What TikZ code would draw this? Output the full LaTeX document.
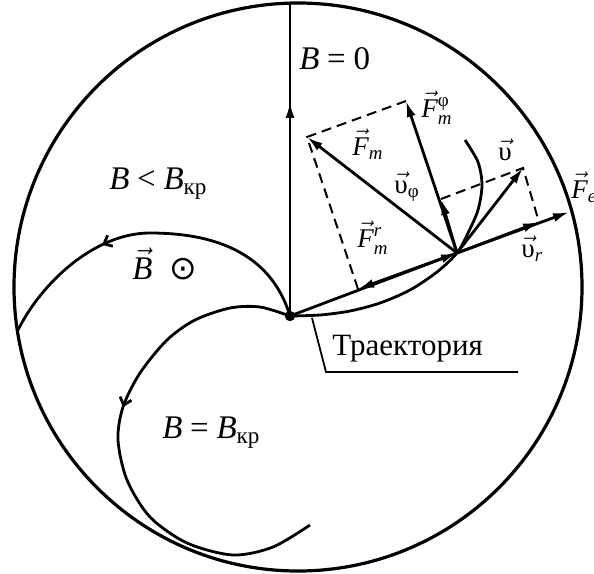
\documentclass[tikz,border=0pt]{standalone}
\usepackage{amsmath}
\usepackage{fontspec}
\setmainfont{Liberation Serif}
\newfontfamily\symfont{DejaVu Sans}
\usetikzlibrary{arrows.meta, decorations.markings, calc}
\newcommand{\rl}[1]{\mskip4mu\text{#1}\mskip4mu}

\tikzset{
  vec/.style={line width=1.4pt, -{Latex[length=8pt,width=4.5pt]}},
  traj/.style={line width=1.4pt},
  hint/.style={line width=1pt, dash pattern=on 5pt off 3pt},
  midarrow/.style={postaction={decorate}, decoration={markings,
      mark=at position #1 with {\arrow{Straight Barb[length=3.5pt,width=6pt]}}}},
  midvec/.style={postaction={decorate}, decoration={markings,
      mark=at position #1 with {\arrow{Latex[length=8pt,width=4.5pt]}}}},
  lab/.style={anchor=base west, inner sep=0pt, font=\fontsize{13.5}{16}\selectfont},
  blab/.style={anchor=base west, inner sep=0pt, font=\fontsize{16.5}{19}\selectfont},
  tlab/.style={anchor=base west, inner sep=0pt, font=\fontsize{15.5}{18}\selectfont},
}

\begin{document}
\begin{tikzpicture}[x=0.5pt, y=-0.5pt]
  \useasboundingbox (0,0) rectangle (594,573);

  % anode
  \coordinate (C) at (298,287);
  \draw[line width=1.6pt] (C) circle [radius=142pt];

  % cathode, point on the trajectory and vector ends
  \coordinate (O) at (290,316);
  \coordinate (P) at (457,253);
  \coordinate (top) at (290,3);
  \coordinate (Fe) at (569,212);
  \coordinate (vr) at (539,222);
  \coordinate (Fr) at (358,289);
  \coordinate (Fphi) at (406,101);
  \coordinate (vphi) at (441,199);
  \coordinate (Fm) at ($(Fr)+(Fphi)-(P)$);
  \coordinate (v) at ($(vr)+(vphi)-(P)$);

  % B = 0
  \draw[line width=1.4pt, midvec=0.684] (O) -- (top);

  % trajectories
  \draw[traj, midarrow=0.65] (O) .. controls (270,250) and (210,233) .. (150,233)
    .. controls (95,233) and (42,282) .. (18,330);
  \draw[traj, midarrow=0.42] plot[smooth] coordinates {(290,316) (260,307) (230,308) (195,320) (167,340)
    (140,373) (123,407) (118,440) (127,480) (150,517) (187,543) (233,555) (273,547) (310,525)};
  \draw[traj] plot[smooth] coordinates {(290,316) (320,315) (350,311) (380,303) (410,290) (437,272)
    (457,253) (468,233) (478,210) (482,185) (478,162) (465,140)};

  % leader of the label
  \coordinate (lead) at (312,318);
  \coordinate (kink) at (326,372);
  \coordinate (lend) at (518,372);
  \draw[line width=0.9pt] (lead) -- (kink) -- (lend);
  \node[tlab] (trlab) at (332,355) {Траектория};

  % forces and velocities
  \draw[vec] (O) -- (P);
  \draw[vec] (P) -- (Fe);
  \draw[vec] (P) -- (vr);
  \draw[vec] (P) -- (Fr);
  \draw[vec] (P) -- (Fm);
  \draw[vec] (P) -- (Fphi);
  \draw[vec] (P) -- (vphi);
  \draw[vec] (P) -- (v);
  \draw[hint] (Fr) -- (Fm) -- (Fphi);
  \draw[hint] (vphi) -- (v) -- (vr);
  \fill (O) circle [radius=2.6pt];

  % labels
  \node[blab] (lb0) at (299,69) {$\mathit{B}\rl{=}\text{0}$};
  \node[blab] (lbless) at (109,189) {$\mathit{B}\rl{<}\mathit{B}_{\text{кр}}$};
  \node[blab] (lbvec) at (132,279) {$\vec{\mathit{B}}$\hspace{0.5em}{\symfont ⊙}};
  \node[blab] (lbcr) at (162,438) {$\mathit{B}\rl{=}\mathit{B}_{\text{кр}}$};
  \node[lab] (lFphi) at (421,117) {$\vec{\mathit{F}}_{\mathit{m}}^{\text{φ}}$};
  \node[lab] (lFm) at (352,155) {$\vec{\mathit{F}}_{\mathit{m}}$};
  \node[lab] (lvphi) at (394,193) {$\vec{\text{υ}}_{\text{φ}}$};
  \node[lab] (lv) at (498,160) {$\vec{\text{υ}}$};
  \node[lab] (lFr) at (357,247) {$\vec{\mathit{F}}_{\mathit{m}}^{\mathit{r}}$};
  \node[lab] (lvr) at (521,257) {$\vec{\text{υ}}_{\mathit{r}}$};
  \node[lab] (lFe) at (571,198) {$\vec{\mathit{F}}_{\mathit{e}}$};
\end{tikzpicture}
\end{document}
